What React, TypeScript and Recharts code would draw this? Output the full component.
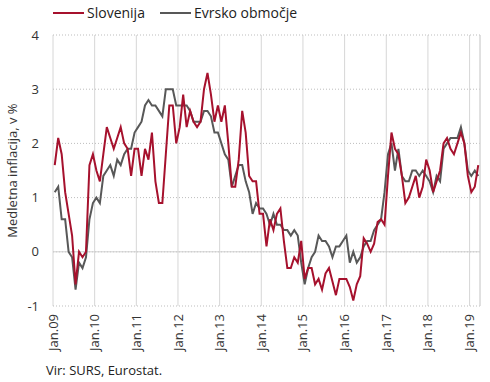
import React from "react";
import {
  LineChart,
  Line,
  XAxis,
  YAxis,
  CartesianGrid,
  ReferenceLine,
  Label,
} from "recharts";

// monthly y/y inflation, Jan 2009 - Mar 2019
const slovenija = [
  1.6, 2.1, 1.8, 1.1, 0.7, 0.3, -0.6, 0.0, -0.1, 0.0, 1.6, 1.8,
  1.5, 1.3, 1.8, 2.3, 2.1, 1.9, 2.1, 2.3, 2.0, 1.9, 1.4, 1.9,
  1.9, 1.4, 1.9, 1.7, 2.2, 1.3, 0.9, 0.9, 1.8, 2.7, 2.7, 2.0,
  2.3, 2.9, 2.3, 2.6, 2.4, 2.3, 2.4, 3.0, 3.3, 2.9, 2.4, 2.7,
  2.4, 2.7, 2.0, 1.2, 1.2, 1.7, 2.6, 2.2, 1.4, 1.3, 1.3, 0.7,
  0.7, 0.1, 0.6, 0.4, 0.7, 0.8, 0.2, -0.3, -0.3, -0.1, -0.2, 0.2,
  -0.5, -0.3, -0.3, -0.6, -0.5, -0.7, -0.4, -0.3, -0.55, -0.8, -0.5, -0.5,
  -0.5, -0.65, -0.9, -0.6, -0.45, 0.25, 0.15, 0.0, 0.15, 0.55, 0.6, 0.5,
  1.4, 2.2, 1.9, 1.8, 1.4, 0.9, 1.0, 1.2, 1.4, 1.0, 1.2, 1.7,
  1.5, 1.1, 1.3, 1.5, 2.0, 2.1, 1.9, 1.8, 2.0, 2.2, 2.0, 1.4,
  1.1, 1.2, 1.6,
];

const evrskoObmocje = [
  1.1, 1.2, 0.6, 0.6, 0.0, -0.1, -0.7, -0.2, -0.3, -0.1, 0.6, 0.9,
  1.0, 0.9, 1.4, 1.5, 1.6, 1.4, 1.7, 1.6, 1.8, 1.9, 1.9, 2.2,
  2.3, 2.4, 2.7, 2.8, 2.7, 2.7, 2.6, 2.5, 3.0, 3.0, 3.0, 2.7,
  2.7, 2.7, 2.7, 2.6, 2.4, 2.4, 2.4, 2.6, 2.6, 2.5, 2.2, 2.2,
  2.0, 1.8, 1.7, 1.2, 1.4, 1.6, 1.6, 1.3, 1.1, 0.7, 0.9, 0.8,
  0.8, 0.7, 0.5, 0.7, 0.5, 0.5, 0.4, 0.4, 0.3, 0.4, 0.3, -0.2,
  -0.6, -0.3, -0.1, 0.0, 0.3, 0.2, 0.2, 0.1, -0.1, 0.1, 0.1, 0.2,
  0.3, -0.2, 0.0, -0.2, -0.1, 0.1, 0.2, 0.2, 0.4, 0.5, 0.6, 1.1,
  1.8, 2.0, 1.5, 1.9, 1.4, 1.3, 1.3, 1.5, 1.5, 1.4, 1.5, 1.4,
  1.3, 1.1, 1.4, 1.3, 1.9, 2.0, 2.1, 2.1, 2.1, 2.3, 2.0, 1.5,
  1.4, 1.5, 1.4,
];

const yearLabels = [
  "Jan.09", "Jan.10", "Jan.11", "Jan.12", "Jan.13", "Jan.14",
  "Jan.15", "Jan.16", "Jan.17", "Jan.18", "Jan.19",
];

const yTicks = [-1, 0, 1, 2, 3, 4];

const RED = "#a6112d";
const GRAY = "#585858";
const FONT = "'Open Sans', sans-serif";

// points sit mid-month, ticks on 1 Jan
const data = slovenija.map((v, i) => ({
  t: i + 0.5,
  slo: v,
  ea: evrskoObmocje[i],
}));
const xTicks = yearLabels.map((_, k) => k * 12);

const XTick = (props: any) => {
  const { x, y, payload } = props;
  const label = yearLabels[Math.round(payload.value / 12)];
  return (
    <text
      x={x}
      y={y}
      dy="0.35em"
      transform={`rotate(-90, ${x}, ${y})`}
      textAnchor="end"
      fill="#333"
      fontSize={13}
      fontFamily={FONT}
    >
      {label}
    </text>
  );
};

const legendItems = [
  { name: "Slovenija", color: RED, left: 53 },
  { name: "Evrsko območje", color: GRAY, left: 160 },
];

export default function App() {
  return (
    <div
      style={{
        position: "absolute",
        left: 0,
        top: 0,
        width: 490,
        height: 382,
        background: "#fff",
        fontFamily: FONT,
      }}
    >
      {/* legend */}
      {legendItems.map((it) => (
        <div
          key={it.name}
          style={{
            position: "absolute",
            left: it.left,
            top: 3,
            display: "flex",
            alignItems: "center",
            fontSize: 14,
            color: "#222",
            whiteSpace: "nowrap",
          }}
        >
          <span
            style={{
              display: "inline-block",
              width: 31,
              height: 2,
              background: it.color,
              marginRight: 3,
            }}
          />
          <span>{it.name}</span>
        </div>
      ))}

      <LineChart
        width={490}
        height={382}
        data={data}
        margin={{ top: 35, right: 10, bottom: 31, left: 0 }}
      >
        <CartesianGrid horizontal={false} stroke="#d6d6d6" />
        <CartesianGrid vertical={false} stroke="#bdbdbd" strokeDasharray="1 2" />
        <ReferenceLine y={0} stroke="#d0d0d0" />
        <ReferenceLine x={123} stroke="#d6d6d6" />
        <XAxis
          type="number"
          dataKey="t"
          domain={[0, 123]}
          ticks={xTicks}
          interval={0}
          axisLine={false}
          tickLine={false}
          height={45}
          tick={<XTick />}
        />
        <YAxis
          domain={[-1, 4]}
          ticks={yTicks}
          width={53}
          axisLine={false}
          tickLine={false}
          tickMargin={8}
          tick={{ fill: "#333", fontSize: 13, fontFamily: FONT }}
        >
          <Label
            value="Medletna inflacija, v %"
            angle={-90}
            position="insideLeft"
            offset={12}
            style={{ textAnchor: "middle", fill: "#333", fontSize: 13, fontFamily: FONT }}
          />
        </YAxis>
        <Line
          type="linear"
          dataKey="ea"
          name="Evrsko območje"
          stroke={GRAY}
          strokeWidth={2}
          dot={false}
          isAnimationActive={false}
        />
        <Line
          type="linear"
          dataKey="slo"
          name="Slovenija"
          stroke={RED}
          strokeWidth={2}
          dot={false}
          isAnimationActive={false}
        />
      </LineChart>

      <div
        style={{
          position: "absolute",
          left: 46,
          top: 361,
          fontSize: 13,
          color: "#222",
        }}
      >
        Vir: SURS, Eurostat.
      </div>
    </div>
  );
}
